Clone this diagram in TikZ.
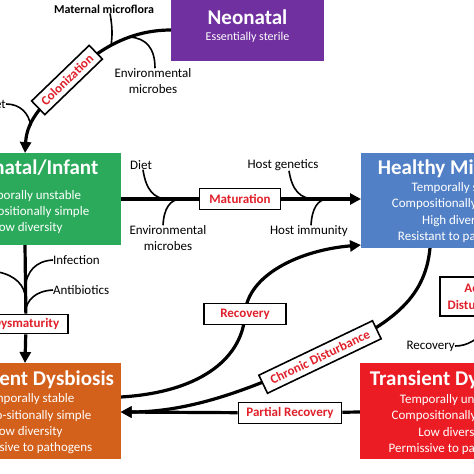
\documentclass[tikz,border=0pt]{standalone}
\usepackage{fontspec}
\setmainfont{Carlito}
\usetikzlibrary{arrows.meta}
\definecolor{cpurple}{HTML}{7030A0}
\definecolor{cgreen}{HTML}{2BAA5C}
\definecolor{cblue}{HTML}{5280C6}
\definecolor{corange}{HTML}{D3601B}
\definecolor{cred}{HTML}{EC1C24}
\definecolor{lred}{HTML}{E0202A}
\pgfdeclarelayer{back}
\pgfdeclarelayer{bg}
\pgfsetlayers{back,bg,main}
\begin{document}
\begin{tikzpicture}[x=1pt,y=-1pt,
 stagebox/.style={inner sep=0pt, outer sep=0pt},
 ttl/.style={text=white, font=\bfseries\fontsize{21}{21}\selectfont, inner sep=0pt},
 bdy/.style={text=white, font=\fontsize{13}{16.3}\selectfont, align=center, inner sep=0pt},
 lbl/.style={draw=black, line width=1.6pt, fill=white, text=lred, font=\bfseries\fontsize{13}{16}\selectfont, inner sep=1pt, minimum height=20pt, align=center},
 annot/.style={font=\fontsize{13}{16}\selectfont, inner sep=0pt, align=center},
 flow/.style={line width=3.2pt},
 infl/.style={line width=1.6pt},
 arr/.style={-{Triangle[length=11pt,width=11pt]}}
]
\useasboundingbox (0,0) rectangle (474,474);
\begin{pgfonlayer}{back}
\fill[white] (0,0) rectangle (474,474);
\end{pgfonlayer}

% stage boxes
\node[stagebox, fill=cpurple, minimum width=153pt, minimum height=66pt] (neo) at (247.5,28) {};
\node[ttl] (neoT) at (247.5,17) {Neonatal};
\node[bdy, font=\fontsize{12}{14}\selectfont] (neoB) at (247.5,37) {Essentially sterile};

\node[stagebox, fill=cgreen, minimum width=184.7pt, minimum height=92pt] (grn) at (28.3,199) {};
\node[ttl] (grnT) at (28,168) {Neonatal/Infant};
\node[bdy] (grnB) at (28,212) {Temporally unstable\\Compositionally simple\\Low diversity};

\node[stagebox, fill=cblue, minimum width=198pt, minimum height=95pt] (hb) at (460,200.5) {};
\node[ttl] (hbT) at (462,169) {Healthy Microbiota};
\node[bdy] (hbB) at (458,212.5) {Temporally stable\\Compositionally complex\\High diversity\\Resistant to pathogens};

\node[stagebox, fill=corange, minimum width=184.7pt, minimum height=96pt] (orb) at (28.3,411) {};
\node[ttl] (orbT) at (28,380) {Persistent Dysbiosis};
\node[bdy] (orbB) at (28,424) {Temporally stable\\Compo-sitionally simple\\Low diversity\\Permissive to pathogens};

\node[stagebox, fill=cred, minimum width=186pt, minimum height=96pt] (rb) at (453,411) {};
\node[ttl] (rbT) at (453,380) {Transient Dysbiosis};
\node[bdy] (rbB) at (453,424.5) {Temporally unstable\\Compositionally simple\\Low diversity\\Permissive to pathogens};

% label boxes
\node[lbl, rotate=44, minimum width=80pt, minimum height=19pt] (colL) at (67,80) {Colonization};
\node[lbl, minimum width=81pt, minimum height=21pt] (matL) at (240,199) {Maturation};
\node[lbl, minimum width=84pt, minimum height=19pt] (dysL) at (26,324) {Dysmaturity};
\node[lbl, minimum width=82pt, minimum height=21pt] (recL) at (245,314) {Recovery};
\node[lbl, rotate=25.6, minimum width=126pt, minimum height=20pt] (chL) at (320,357) {Chronic Disturbance};
\node[lbl, minimum width=103pt, minimum height=21pt] (parL) at (290,413) {Partial Recovery};
\node[lbl, minimum width=80pt, minimum height=39pt, font=\bfseries\fontsize{13}{17}\selectfont] (acL) at (480,296.5) {Acute\\Disturbance};

% annotations
\node[annot, font=\bfseries\fontsize{12}{14}\selectfont] (mat) at (104,9) {Maternal microflora};
\node[annot] (env1) at (153,81) {Environmental\\microbes};
\node[annot, anchor=east] (dietL) at (6,104) {Diet};
\node[annot] (diet2) at (141,165) {Diet};
\node[annot] (env2) at (168,238) {Environmental\\microbes};
\node[annot] (hg) at (283,165) {Host genetics};
\node[annot] (hi) at (309,231) {Host immunity};
\node[annot, anchor=west] (inf) at (53,260) {Infection};
\node[annot, anchor=west] (anti) at (53,290) {Antibiotics};
\node[annot, anchor=east] (recA) at (455,346) {Recovery};

\coordinate (j1) at (168,199);
\coordinate (j2) at (182,199);
\coordinate (j3) at (315,199);
\coordinate (j4) at (328,199);
\coordinate (k1) at (25,287);
\coordinate (k2) at (25,312);
\coordinate (k3) at (25,294);
\coordinate (lfJ) at (-8,271);
\coordinate (acJ) at (492,326);

\begin{pgfonlayer}{bg}
% main flows
\draw[flow,arr] ([yshift=-2pt]neo.west) .. controls (125,30) and (92,54) .. (colL.center)
   coordinate[pos=0.5] (c1) coordinate[pos=0.33] (c2)
   .. controls (45,103) and (27,118) .. ([xshift=-3.3pt]grn.north) coordinate[pos=0.7] (c3);
\draw[flow,arr] (grn.east) -- (matL) -- (grn.east -| hb.west);
\draw[flow,arr] ([xshift=-3.3pt]grn.south) -- (dysL) -- ([xshift=-3.3pt]orb.north);
\draw[flow,arr] ([yshift=14pt]orb.east) .. controls (205,392) and (243,355) .. (recL.center)
   .. controls (247,275) and (300,250) .. ([yshift=3pt]hb.south west);
\draw[flow,arr] ([xshift=-30pt]hb.south) .. controls (425,300) and (390,325) .. (chL.center)
   .. controls (250,390) and (190,412) .. ([yshift=-1pt]orb.east);
\draw[flow,arr] ([yshift=-1pt]rb.west) -- (parL) -- ([yshift=-1pt]orb.east);
% influences
\draw[infl] ([xshift=6pt]mat.south) .. controls (113,30) and (112,37) .. (c1);
\draw[infl] ([xshift=2pt]env1.north) .. controls (155,48) and (146,38) .. (c2);
\draw[infl] (dietL.east) .. controls (20,104) and (29,113) .. (c3);
\draw[infl] ([xshift=2pt]diet2.south) .. controls (146,190) and (154,199) .. (j1);
\draw[infl] ([xshift=-5pt]env2.north) .. controls (164,208) and (170,199) .. (j2);
\draw[infl] ([xshift=6pt]hg.south) .. controls (292,190) and (300,199) .. (j3);
\draw[infl] ([xshift=2pt]hi.north) .. controls (312,208) and (318,199) .. (j4);
\draw[infl] (inf.west) .. controls (35,261) and (27,272) .. (k1);
\draw[infl] (anti.west) .. controls (35,291) and (27,300) .. (k2);
\draw[infl] (lfJ) .. controls (10,273) and (22,281) .. (k3);
\draw[infl] (recA.east) .. controls (468,346) and (476,340) .. (acJ);
\end{pgfonlayer}
\end{tikzpicture}
\end{document}
